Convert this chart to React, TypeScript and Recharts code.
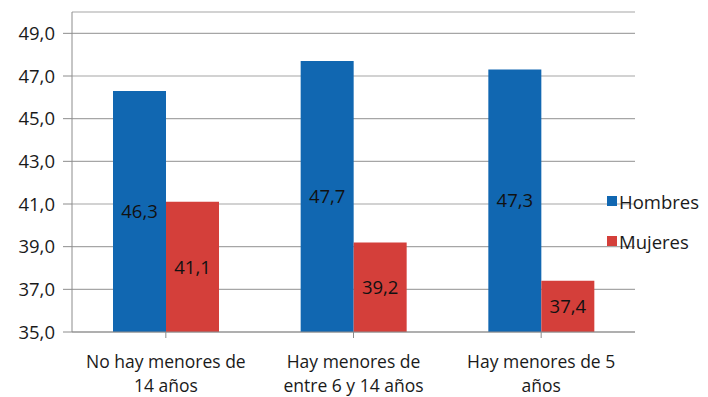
import React from "react";
import { BarChart, Bar, XAxis, YAxis, CartesianGrid, Legend, LabelList } from "recharts";

// Age by household situation, men vs women
const categories = [
  "No hay menores de\n14 años",
  "Hay menores de\nentre 6 y 14 años",
  "Hay menores de 5\naños",
];
const hombres = [46.3, 47.7, 47.3];
const mujeres = [41.1, 39.2, 37.4];
const yTicks = [35, 37, 39, 41, 43, 45, 47, 49];

const BLUE = "#1167b1";
const RED = "#d43f3a";
const FONT = "'Open Sans', 'Noto Sans', sans-serif";
const FS = 18.5;
const CAT_FS = 17.5;

const data = categories.map((c, i) => ({
  name: c,
  Hombres: hombres[i],
  Mujeres: mujeres[i],
}));

const fmt = (v: number) => v.toFixed(1).replace(".", ",");

const CategoryTick = (props: any) => {
  const { x, y, payload } = props;
  const lines = String(payload.value).split("\n");
  return (
    <g transform={`translate(${x},${y})`}>
      {lines.map((l: string, i: number) => (
        <text
          key={i}
          x={0}
          y={28 + i * 24}
          textAnchor="middle"
          fill="#1a1a1a"
          fontSize={CAT_FS}
          fontFamily={FONT}
        >
          {l}
        </text>
      ))}
    </g>
  );
};

const LegendContent = () => (
  <div style={{ fontFamily: FONT, fontSize: FS, color: "#1a1a1a" }}>
    {[
      { label: "Hombres", color: BLUE },
      { label: "Mujeres", color: RED },
    ].map((it) => (
      <div
        key={it.label}
        style={{ display: "flex", alignItems: "center", height: 40 }}
      >
        <span
          style={{
            display: "inline-block",
            width: 10,
            height: 10,
            background: it.color,
            marginRight: 2,
          }}
        />
        <span>{it.label}</span>
      </div>
    ))}
  </div>
);

export default function App() {
  return (
    <div style={{ position: "absolute", left: 0, top: 0, background: "#fff" }}>
      <BarChart
        width={708}
        height={397}
        data={data}
        margin={{ top: 12, right: 73, bottom: 5, left: 0 }}
        barGap={0}
        barSize={53}
      >
        <CartesianGrid vertical={false} stroke="#a6a6a6" strokeWidth={1.2} />
        <XAxis
          dataKey="name"
          height={60}
          interval={0}
          tick={<CategoryTick />}
          tickLine={{ stroke: "#8c8c8c" }}
          tickSize={6}
          axisLine={{ stroke: "#8c8c8c" }}
        />
        <YAxis
          width={72}
          domain={[35, 50]}
          ticks={yTicks}
          allowDataOverflow
          tickFormatter={fmt}
          tick={{ fill: "#1a1a1a", fontSize: FS, fontFamily: FONT, dx: -6 }}
          tickLine={{ stroke: "#8c8c8c" }}
          tickSize={9}
          axisLine={{ stroke: "#8c8c8c" }}
        />
        <Legend
          layout="vertical"
          align="center"
          verticalAlign="middle"
          content={<LegendContent />}
          wrapperStyle={{ position: "absolute", left: 607, top: 181, width: 101 }}
        />
        <Bar dataKey="Hombres" fill={BLUE} isAnimationActive={false}>
          <LabelList
            dataKey="Hombres"
            position="center"
            formatter={(v: any) => fmt(Number(v))}
            fill="#111"
            fontSize={FS}
            fontFamily={FONT}
          />
        </Bar>
        <Bar dataKey="Mujeres" fill={RED} isAnimationActive={false}>
          <LabelList
            dataKey="Mujeres"
            position="center"
            formatter={(v: any) => fmt(Number(v))}
            fill="#111"
            fontSize={FS}
            fontFamily={FONT}
          />
        </Bar>
      </BarChart>
    </div>
  );
}
